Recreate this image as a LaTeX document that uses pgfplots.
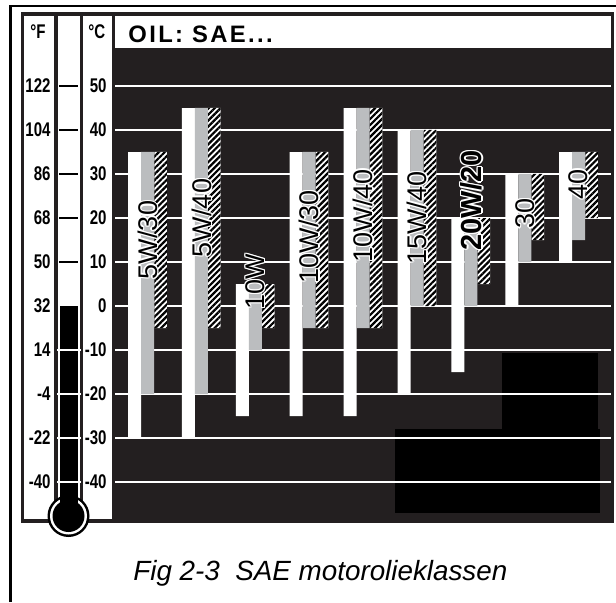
\documentclass[border=0pt]{standalone}
\usepackage{pgfplots}
\pgfplotsset{compat=1.18}
\usepackage{pgfplotstable}
\usepackage{fontspec}
\setmainfont{Liberation Sans}
\newfontfamily\condfont[FakeStretch=0.76]{Liberation Sans}
\usetikzlibrary{patterns.meta}
\definecolor{bg}{HTML}{231F20}
\definecolor{barg}{HTML}{BBBDBF}

% x position (left edge of group, px) ; ranges in degrees C
\pgfplotstableread{
pos wlo whi glo ghi hlo hhi
128.0 -30 35 -20 35 -5 35
181.9 -30 45 -20 45 -5 45
235.8 -25 5 -10 5 -5 5
289.7 -25 35 -5 35 -5 35
343.6 -25 45 -5 45 -5 45
397.5 -20 40 0 40 0 40
451.4 -15 20 0 20 5 20
505.3 0 30 10 30 15 30
559.2 10 35 15 35 20 35
}\oildata

\newcommand\numfont{\condfont\bfseries\fontsize{9.9}{10}\selectfont}
\newcommand\halo[1]{\leavevmode
 \rlap{\kern-0.7pt\textcolor{white}{#1}}%
 \rlap{\kern0.7pt\textcolor{white}{#1}}%
 \rlap{\raisebox{0.7pt}{\textcolor{white}{#1}}}%
 \rlap{\raisebox{-0.7pt}{\textcolor{white}{#1}}}%
 \rlap{\kern-0.5pt\raisebox{0.5pt}{\textcolor{white}{#1}}}%
 \rlap{\kern0.5pt\raisebox{0.5pt}{\textcolor{white}{#1}}}%
 \rlap{\kern-0.5pt\raisebox{-0.5pt}{\textcolor{white}{#1}}}%
 \rlap{\kern0.5pt\raisebox{-0.5pt}{\textcolor{white}{#1}}}%
 #1}

\pgfplotsset{chart/.style={at={(57.5pt,39.5pt)}, anchor=south west,
  width=248pt, height=237.5pt, scale only axis,
  xmin=115, xmax=611, ymin=-49.318, ymax=58.636,
  axis line style={draw=none}, major tick length=0pt, xtick=\empty}}

\begin{document}
\begin{tikzpicture}[x=0.5pt,y=0.5pt]
\path[use as bounding box] (0,0) rectangle (616,602);
\begin{scope}[shift={(0,602)}, yscale=-1]
% outer frame
\draw[line width=1.5pt] (10,602) -- (10,6);
\draw[line width=1.25pt] (9.25,6) -- (616,6);
% panel
\fill[bg] (21,12) rectangle (614,523);
\fill[white] (24,16) rectangle (54,519);
\fill[white] (58,16) rectangle (80,519);
\fill[white] (83,16) rectangle (112,519);
\fill[white] (115,16) rectangle (611,48);
% dark patches
\fill[black] (502,353) rectangle (598,429);
\fill[black] (395,429) rectangle (600,513);
% thermometer
\fill[black] (68.5,516) circle (21);
\fill[white] (68.5,516) circle (18.5);
\fill[black] (59.5,306) rectangle (77.5,516);
\fill[black] (68.5,516) circle (16);
\foreach \c in {10,20,30,40,50}
  \draw[line width=1pt] (59,{306-4.4*\c}) -- (77.5,{306-4.4*\c});
\foreach \c in {-10,-20,-30,-40}
  \draw[white, line width=1pt] (57,{306-4.4*\c}) -- (81,{306-4.4*\c});
% Fahrenheit labels
\foreach \f/\c in {122/50,104/40,86/30,68/20,50/10,32/0,14/-10,-4/-20,-22/-30,-40/-40}
  \node[anchor=east, inner sep=0pt, font=\numfont] at (51,{306-4.4*\c}) {\f};
\node[anchor=base west, inner sep=0pt, font=\numfont] at (30,38) {°F};
\node[anchor=base west, inner sep=0pt, font=\numfont] at (88,38) {°C};
\node[anchor=base west, inner sep=0pt,
  font=\bfseries\fontsize{11.9}{12}\selectfont\addfontfeatures{LetterSpace=10}] at (128,42) {OIL: SAE...};
\node[anchor=base west, inner sep=0pt, font=\itshape\fontsize{13.9}{15}\selectfont]
  at (133,580) {Fig 2-3\ \ SAE motorolieklassen};
\end{scope}

% white bars + grid + C ticks
\begin{axis}[chart, ybar stacked, stack negative=on previous, bar width=13,
  ymajorgrids, grid style={white, line width=1pt},
  ytick={-40,-30,-20,-10,0,10,20,30,40,50},
  yticklabels={-40,-30,-20,-10,0,10,20,30,40,50},
  yticklabel style={font=\numfont, inner sep=0pt, xshift=-4pt}]
\addplot[draw=none, fill=none] table[x expr=\thisrow{pos}+6.5, y=wlo] {\oildata};
\addplot[draw=none, fill=white] table[x expr=\thisrow{pos}+6.5, y expr=\thisrow{whi}-\thisrow{wlo}] {\oildata};
\end{axis}
% gray bars
\begin{axis}[chart, hide axis, ytick=\empty, ybar stacked, stack negative=on previous, bar width=13]
\addplot[draw=none, fill=none] table[x expr=\thisrow{pos}+19.5, y=glo] {\oildata};
\addplot[draw=none, fill=barg] table[x expr=\thisrow{pos}+19.5, y expr=\thisrow{ghi}-\thisrow{glo}] {\oildata};
\end{axis}
% hatched bars
\begin{axis}[chart, hide axis, ytick=\empty, ybar stacked, stack negative=on previous, bar width=12.5]
\addplot[draw=none, fill=none] table[x expr=\thisrow{pos}+32.5, y=hlo] {\oildata};
\addplot[draw=none, fill=white,
  postaction={pattern={Lines[angle=45,distance=2.1pt,line width=1.1pt]}, pattern color=black}]
  table[x expr=\thisrow{pos}+32.5, y expr=\thisrow{hhi}-\thisrow{hlo}] {\oildata};
\end{axis}
% labels
\begin{axis}[chart, hide axis, ytick=\empty, clip=false,
  every node near coord/.append style={rotate=90, anchor=center, inner sep=0pt}]
\addplot[draw=none, mark=none, point meta=explicit symbolic,
  nodes near coords={\halo{\pgfplotspointmeta}},
  every node near coord/.append style={font=\fontsize{13.5}{14}\selectfont}]
  coordinates {(147.5,15)[5W/30] (201.4,20)[5W/40] (255.3,5.5)[10W]
   (309.2,15.7)[10W/30] (363.1,20.5)[10W/40] (417,20)[15W/40]
   (524.8,21)[30] (578.7,27.7)[40]};
\addplot[draw=none, mark=none, point meta=explicit symbolic,
  nodes near coords={\halo{\pgfplotspointmeta}},
  every node near coord/.append style={font=\bfseries\fontsize{14.5}{15}\selectfont}]
  coordinates {(471.5,24)[20W/20]};
\end{axis}
\end{tikzpicture}
\end{document}
